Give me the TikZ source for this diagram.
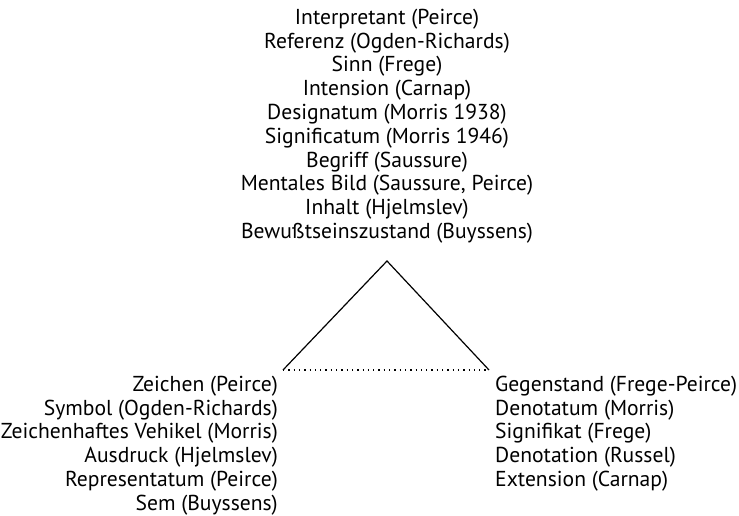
\documentclass[tikz,border=0pt]{standalone}
\usepackage{fontspec}
\setmainfont{PT Sans}
\begin{document}
\begin{tikzpicture}[x=1pt,y=-1pt]
  \tikzset{
    names/.style={inner sep=0pt, font=\fontsize{21.6}{23.8}\selectfont},
    leg/.style={black, line width=1.2pt},
    base/.style={black, line width=1.3pt, dash pattern=on 1.3pt off 4pt}
  }
  \useasboundingbox (0,0) rectangle (739,516);
  % Inhalt / Sinn oben
  \node[names, align=center] (sinn) at (387,126) {Interpretant (Peirce)\\
    Referenz (Ogden-Richards)\\
    Sinn (Frege)\\
    Intension (Carnap)\\
    Designatum (Morris 1938)\\
    Significatum (Morris 1946)\\
    Begriff (Saussure)\\
    Mentales Bild (Saussure, Peirce)\\
    Inhalt (Hjelmslev)\\
    Bewußtseinszustand (Buyssens)};
  % Zeichen links
  \node[names, align=right, anchor=east] (zeichen) at (278,445.5) {Zeichen (Peirce)\\
    Symbol (Ogden-Richards)\\
    Zeichenhaftes Vehikel (Morris)\\
    Ausdruck (Hjelmslev)\\
    Representatum (Peirce)\\
    Sem (Buyssens)};
  % Gegenstand rechts
  \node[names, align=left, anchor=west] (gegenstand) at (495,433.5) {Gegenstand (Frege-Peirce)\\
    Denotatum (Morris)\\
    Signifikat (Frege)\\
    Denotation (Russel)\\
    Extension (Carnap)};
  % Dreieck
  \coordinate (top) at (387,261);
  \coordinate (links) at (283,370);
  \coordinate (rechts) at (489,370);
  \draw[leg] (links) -- (top) -- (rechts);
  \draw[base] (links) -- (rechts);
\end{tikzpicture}
\end{document}
